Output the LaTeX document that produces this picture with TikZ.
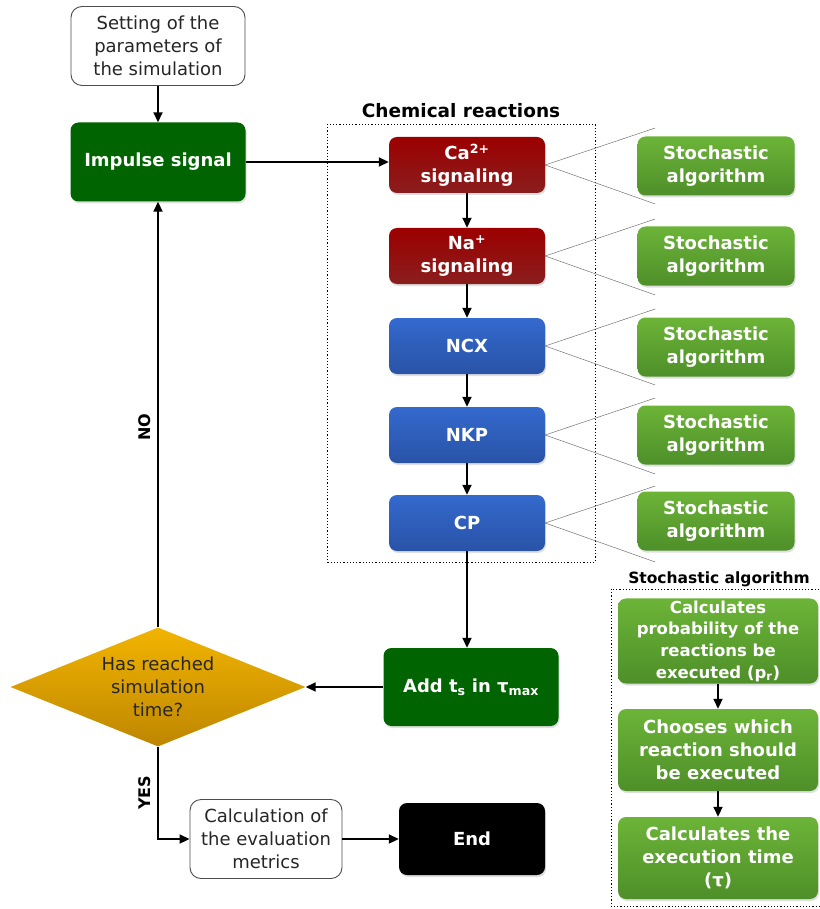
\documentclass[tikz,border=0pt]{standalone}
\usepackage{fontspec}
\setmainfont{DejaVu Sans}
\usetikzlibrary{shapes.geometric,arrows.meta,shadows}

\definecolor{dkgreen}{HTML}{006400}
\definecolor{redtop}{HTML}{9C0000}
\definecolor{redbot}{HTML}{8A1E1E}
\definecolor{bluetop}{HTML}{3469CE}
\definecolor{bluebot}{HTML}{2953A6}
\definecolor{greentop}{HTML}{6CB438}
\definecolor{greenbot}{HTML}{4E8F29}
\definecolor{goldtop}{HTML}{F2B400}
\definecolor{goldbot}{HTML}{BE8600}

\tikzset{
  box/.style={rectangle, rounded corners=8pt, align=center, inner sep=2pt,
    font=\fontsize{18}{23}\selectfont},
  shade/.style={drop shadow={opacity=0.25, shadow xshift=1pt, shadow yshift=-2pt}},
  plainbox/.style={box, draw=black!70, line width=0.9pt, fill=white, text=black!85,
    rounded corners=11pt},
  solidbox/.style={box, shade, text=white, font=\fontsize{18}{23}\selectfont\bfseries},
  redbox/.style={solidbox, top color=redtop, bottom color=redbot,
    minimum width=156pt, minimum height=56pt},
  bluebox/.style={solidbox, top color=bluetop, bottom color=bluebot,
    minimum width=156pt, minimum height=56pt},
  stochbox/.style={solidbox, top color=greentop, bottom color=greenbot,
    minimum width=157pt, minimum height=59pt},
  algbox/.style={solidbox, top color=greentop, bottom color=greenbot,
    minimum width=200pt, minimum height=82pt},
  darkbox/.style={solidbox, fill=dkgreen, minimum width=175pt, minimum height=79pt},
  decision/.style={diamond, aspect=2.48, inner sep=0pt, minimum width=295pt,
    minimum height=119pt, top color=goldtop, bottom color=goldbot,
    align=center, font=\fontsize{18}{23}\selectfont, text=black!85},
  flow/.style={-{Triangle[length=10pt,width=9pt]}, line width=1.8pt},
  fan/.style={black!55, line width=0.5pt},
  frame/.style={line width=0.8pt, dash pattern=on 1.2pt off 2pt},
  title/.style={font=\fontsize{18.5}{22}\selectfont\bfseries},
  sidelabel/.style={rotate=90, anchor=south, inner sep=6pt,
    font=\fontsize{16}{18}\selectfont\bfseries}
}

\begin{document}
\begin{tikzpicture}[x=1pt,y=-1pt]
  \useasboundingbox (0,0) rectangle (819,909);

  % main loop
  \node[plainbox, minimum width=174pt, minimum height=79pt] (setting) at (158,46)
    {Setting of the\\parameters of\\the simulation};
  \node[darkbox] (impulse) at (158,162) {Impulse signal};
  \node[decision] (reach) at (158,687) {Has reached\\simulation\\time?};
  \node[darkbox, minimum height=78pt] (add) at (471,687)
    {Add t\textsubscript{s} in τ\textsubscript{max}};
  \node[plainbox, minimum width=152pt, minimum height=79pt] (calc) at (266,839)
    {Calculation of\\the evaluation\\metrics};
  \node[solidbox, fill=black, minimum width=146pt, minimum height=72pt] (end) at (472,839) {End};

  % chemical reactions
  \node[title] (chemtitle) at (461,111) {Chemical reactions};
  \draw[frame] (327,124) rectangle (595,562);
  \node[redbox] (ca) at (467,165) {Ca\textsuperscript{2+}\\signaling};
  \node[redbox] (na) at (467,256) {Na\textsuperscript{+}\\signaling};
  \node[bluebox] (ncx) at (467,346) {NCX};
  \node[bluebox] (nkp) at (467,435) {NKP};
  \node[bluebox] (cp) at (467,523) {CP};

  \node[stochbox] (s1) at (716,166) {Stochastic\\algorithm};
  \node[stochbox] (s2) at (716,256) {Stochastic\\algorithm};
  \node[stochbox] (s3) at (716,347) {Stochastic\\algorithm};
  \node[stochbox] (s4) at (716,435) {Stochastic\\algorithm};
  \node[stochbox] (s5) at (716,521) {Stochastic\\algorithm};

  \foreach \r in {ca,na,ncx,nkp,cp} {
    \draw[fan] (\r.east) -- ++(110,-37);
    \draw[fan] (\r.east) -- ++(110,39);
  }

  % stochastic algorithm
  \node[title, font=\fontsize{15.5}{18}\selectfont\bfseries] (algtitle) at (719,579) {Stochastic algorithm};
  \draw[frame] (611,589) rectangle (830,906);
  \node[algbox, font=\fontsize{16.5}{21.7}\selectfont\bfseries] (prob) at (718,641)
    {Calculates\\probability of the\\reactions be\\executed (p\textsubscript{r})};
  \node[algbox] (choose) at (718,750) {Chooses which\\reaction should\\be executed};
  \node[algbox] (time) at (718,858) {Calculates the\\execution time\\(τ)};

  % connectors
  \draw[flow] (setting) -- (impulse);
  \draw[flow] (impulse.east) -- (ca.west |- impulse.east);
  \draw[flow] (ca) -- (na);
  \draw[flow] (na) -- (ncx);
  \draw[flow] (ncx) -- (nkp);
  \draw[flow] (nkp) -- (cp);
  \draw[flow] (cp.south) -- (cp.south |- add.north);
  \draw[flow] (add) -- (reach);
  \draw[flow] (reach.north) -- node[sidelabel, pos=0.47] {NO} (impulse.south);
  \draw[flow] (reach.south) |- node[sidelabel, pos=0.25] {YES} (calc.west);
  \draw[flow] (calc) -- (end);
  \draw[flow] (prob) -- (choose);
  \draw[flow] (choose) -- (time);
\end{tikzpicture}
\end{document}
